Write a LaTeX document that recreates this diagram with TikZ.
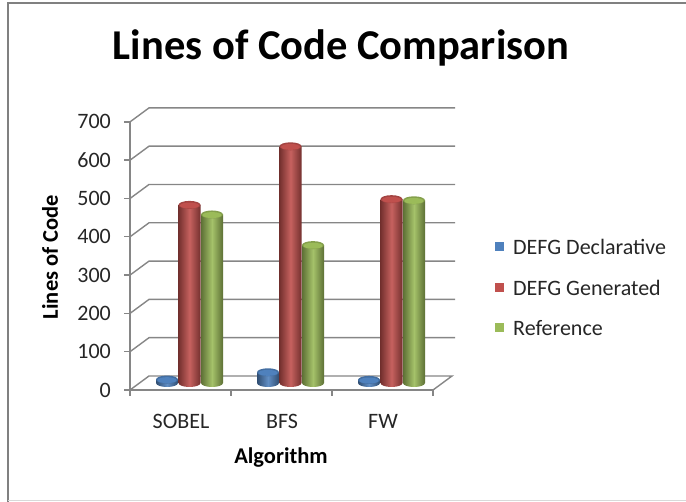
\documentclass[tikz,border=0pt]{standalone}
\usepackage{fontspec}
\setmainfont{Carlito}
\usepackage{tikz}
\usetikzlibrary{calc}

\definecolor{serblue}{HTML}{4F81BD}
\definecolor{serred}{HTML}{C0504D}
\definecolor{sergreen}{HTML}{9BBB59}
\definecolor{gridgray}{HTML}{868686}

\begin{document}
\begin{tikzpicture}[
    x=1pt, y=-1pt, % work in pixel units, y pointing down
    gridline/.style={gridgray, line width=1.4pt},
    ticklabel/.style={font=\fontsize{22}{24}\selectfont, text=black!85, inner sep=0pt},
    axistitle/.style={font=\fontsize{22.5}{24}\selectfont\bfseries, inner sep=0pt},
    legendbox/.style={minimum size=9pt, inner sep=0pt}
]

    % Define chart geometry
    \def\xfront{130} % x of front vertical axis
    \def\yfront{390} % y of front floor edge
    \def\dx{19}      % depth offset to the back wall
    \def\dy{-14}
    \def\xend{433}   % right end of the floor (front)
    \def\unit{0.383} % pixels per line of code
    \def\catw{101}   % width of one category
    \def\rad{11}     % cylinder radius

    \useasboundingbox (0,0) rectangle (686,502);

    % --- Frame ---
    \draw[gray, line width=2pt] (7.5,502) -- (7.5,3) -- (686,3);
    \draw[black!15, line width=1pt] (7.5,501) -- (686,501);

    % --- Title ---
    \node[font=\fontsize{42.5}{45}\selectfont\bfseries] (title) at (341,48) {Lines of Code Comparison};

    % --- Back wall, side wall and floor ---
    \foreach \k in {1,...,7} {
        \pgfmathsetmacro{\yy}{\yfront-38.3*\k}
        \draw[gridline] (\xfront,\yy) -- ++(\dx,\dy) -- (455,\yy+\dy);
    }
    \draw[gridline] (\xfront,\yfront) -- ++(\dx,\dy) -- ++(\xend-\xfront,0) -- (\xend,\yfront);
    \draw[gridline] (\xfront,\yfront) -- (\xend,\yfront);
    \draw[gridline] (\xfront,\yfront-268) -- (\xfront,\yfront+2);

    % Y-axis ticks and labels
    \foreach \k in {0,...,7} {
        \pgfmathsetmacro{\yy}{\yfront-38.3*\k}
        \draw[gridline] (\xfront-6,\yy) -- (\xfront,\yy);
        \pgfmathtruncatemacro{\val}{100*\k}
        \node[ticklabel, anchor=east] (ylab\k) at (111,\yy) {\val};
    }
    % X-axis ticks
    \foreach \i in {0,...,3} {
        \draw[gridline] (\xfront+\catw*\i,\yfront) -- ++(0,6);
    }
    \foreach \name/\i in {SOBEL/0, BFS/1, FW/2} {
        \node[ticklabel] (cat\i) at (\xfront+\catw*\i+51,421) {\name};
    }

    % --- Cylinders ---
    \foreach \i/\va/\vb/\vc in {0/9/465/440, 1/28/618/360, 2/8/480/477} {
        \foreach \col/\v/\off in {serblue/\va/37, serred/\vb/59.5, sergreen/\vc/82} {
            \pgfmathsetmacro{\cx}{\xfront+\catw*\i+\off}
            \pgfmathsetmacro{\yt}{383-\unit*\v}
            \shade[left color=\col!60!black, right color=\col!60!black, middle color=\col!90!white, shading angle=90]
                (\cx-\rad,\yt) -- (\cx-\rad,383) arc[start angle=180, end angle=0, x radius=\rad, y radius=4] -- (\cx+\rad,\yt) -- cycle;
            \fill[\col!85!black] (\cx,\yt) ellipse[x radius=\rad, y radius=4];
            \fill[\col] (\cx,\yt+0.6) ellipse[x radius=\rad-1.5, y radius=3];
        }
    }

    % --- Axis titles ---
    \node[axistitle, rotate=90] (ytitle) at (50,257) {Lines of Code};
    \node[axistitle] (xtitle) at (281,458) {Algorithm};

    % --- Legend ---
    \foreach \col/\txt/\yy [count=\n] in {serblue/DEFG Declarative/247, serred/DEFG Generated/288, sergreen/Reference/328} {
        \node[legendbox, fill=\col] (key\n) at (499.5,\yy) {};
        \node[ticklabel, anchor=west] (leg\n) at (513,\yy) {\txt};
    }
\end{tikzpicture}
\end{document}
